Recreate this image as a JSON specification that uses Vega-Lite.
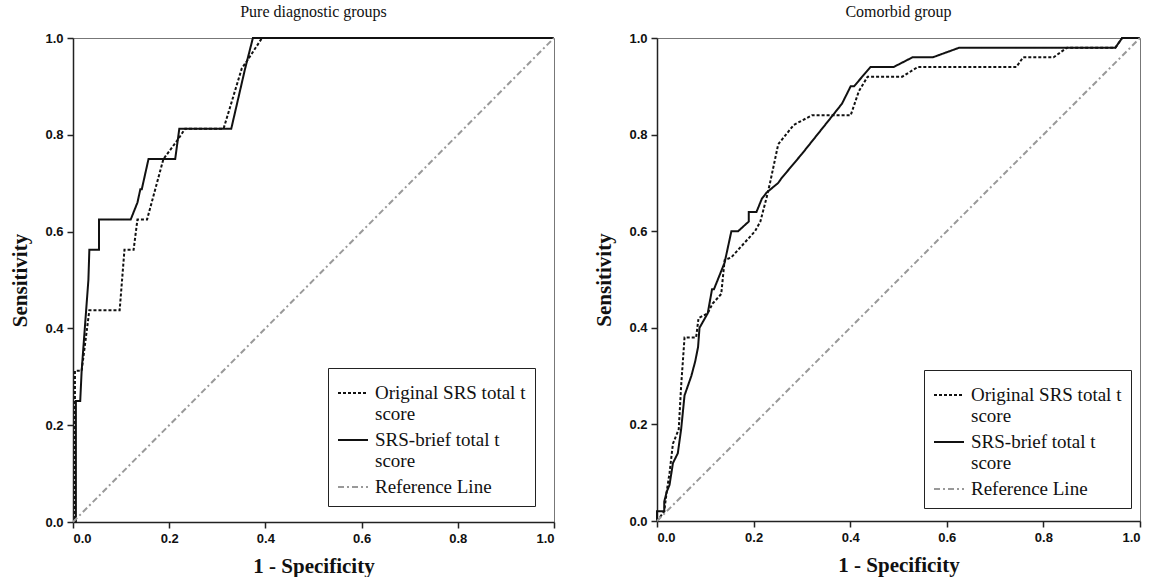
{
  "$schema": "https://vega.github.io/schema/vega-lite/v6.json",
  "background": "white",
  "padding": {"left": 9, "top": 3, "right": 0, "bottom": 0},
  "spacing": 34,
  "datasets": {
    "pure": [
      {"s": "a", "i": 0, "x": 0, "y": 0},
      {"s": "a", "i": 1, "x": 0.004, "y": 0},
      {"s": "a", "i": 2, "x": 0.004, "y": 0.3125},
      {"s": "a", "i": 3, "x": 0.018, "y": 0.3125},
      {"s": "a", "i": 4, "x": 0.026, "y": 0.375},
      {"s": "a", "i": 5, "x": 0.034, "y": 0.4375},
      {"s": "a", "i": 6, "x": 0.097, "y": 0.4375},
      {"s": "a", "i": 7, "x": 0.107, "y": 0.5625},
      {"s": "a", "i": 8, "x": 0.126, "y": 0.5625},
      {"s": "a", "i": 9, "x": 0.134, "y": 0.625},
      {"s": "a", "i": 10, "x": 0.154, "y": 0.625},
      {"s": "a", "i": 11, "x": 0.171, "y": 0.6875},
      {"s": "a", "i": 12, "x": 0.188, "y": 0.75},
      {"s": "a", "i": 13, "x": 0.218, "y": 0.79},
      {"s": "a", "i": 14, "x": 0.233, "y": 0.8125},
      {"s": "a", "i": 15, "x": 0.313, "y": 0.8125},
      {"s": "a", "i": 16, "x": 0.351, "y": 0.9375},
      {"s": "a", "i": 17, "x": 0.36, "y": 0.95},
      {"s": "a", "i": 18, "x": 0.393, "y": 1},
      {"s": "a", "i": 19, "x": 1, "y": 1},
      {"s": "b", "i": 0, "x": 0, "y": 0},
      {"s": "b", "i": 1, "x": 0.006, "y": 0},
      {"s": "b", "i": 2, "x": 0.006, "y": 0.25},
      {"s": "b", "i": 3, "x": 0.015, "y": 0.25},
      {"s": "b", "i": 4, "x": 0.018, "y": 0.3125},
      {"s": "b", "i": 5, "x": 0.032, "y": 0.5},
      {"s": "b", "i": 6, "x": 0.034, "y": 0.5625},
      {"s": "b", "i": 7, "x": 0.054, "y": 0.5625},
      {"s": "b", "i": 8, "x": 0.054, "y": 0.625},
      {"s": "b", "i": 9, "x": 0.12, "y": 0.625},
      {"s": "b", "i": 10, "x": 0.134, "y": 0.66},
      {"s": "b", "i": 11, "x": 0.14, "y": 0.6875},
      {"s": "b", "i": 12, "x": 0.143, "y": 0.6875},
      {"s": "b", "i": 13, "x": 0.157, "y": 0.75},
      {"s": "b", "i": 14, "x": 0.2125, "y": 0.75},
      {"s": "b", "i": 15, "x": 0.221, "y": 0.8125},
      {"s": "b", "i": 16, "x": 0.329, "y": 0.8125},
      {"s": "b", "i": 17, "x": 0.358, "y": 0.9375},
      {"s": "b", "i": 18, "x": 0.374, "y": 1},
      {"s": "b", "i": 19, "x": 1, "y": 1},
      {"s": "c", "i": 0, "x": 0, "y": 0},
      {"s": "c", "i": 1, "x": 1, "y": 1}
    ],
    "comorbid": [
      {"s": "a", "i": 0, "x": 0, "y": 0},
      {"s": "a", "i": 1, "x": 0.015, "y": 0.02},
      {"s": "a", "i": 2, "x": 0.02, "y": 0.06},
      {"s": "a", "i": 3, "x": 0.026, "y": 0.1},
      {"s": "a", "i": 4, "x": 0.033, "y": 0.16},
      {"s": "a", "i": 5, "x": 0.045, "y": 0.19},
      {"s": "a", "i": 6, "x": 0.05, "y": 0.28},
      {"s": "a", "i": 7, "x": 0.057, "y": 0.38},
      {"s": "a", "i": 8, "x": 0.081, "y": 0.38},
      {"s": "a", "i": 9, "x": 0.086, "y": 0.42},
      {"s": "a", "i": 10, "x": 0.105, "y": 0.43},
      {"s": "a", "i": 11, "x": 0.115, "y": 0.45},
      {"s": "a", "i": 12, "x": 0.133, "y": 0.47},
      {"s": "a", "i": 13, "x": 0.14, "y": 0.54},
      {"s": "a", "i": 14, "x": 0.154, "y": 0.546},
      {"s": "a", "i": 15, "x": 0.203, "y": 0.6},
      {"s": "a", "i": 16, "x": 0.214, "y": 0.62},
      {"s": "a", "i": 17, "x": 0.227, "y": 0.67},
      {"s": "a", "i": 18, "x": 0.234, "y": 0.7},
      {"s": "a", "i": 19, "x": 0.251, "y": 0.78},
      {"s": "a", "i": 20, "x": 0.283, "y": 0.82},
      {"s": "a", "i": 21, "x": 0.321, "y": 0.84},
      {"s": "a", "i": 22, "x": 0.401, "y": 0.84},
      {"s": "a", "i": 23, "x": 0.418, "y": 0.89},
      {"s": "a", "i": 24, "x": 0.436, "y": 0.92},
      {"s": "a", "i": 25, "x": 0.508, "y": 0.92},
      {"s": "a", "i": 26, "x": 0.54, "y": 0.94},
      {"s": "a", "i": 27, "x": 0.744, "y": 0.94},
      {"s": "a", "i": 28, "x": 0.758, "y": 0.96},
      {"s": "a", "i": 29, "x": 0.821, "y": 0.96},
      {"s": "a", "i": 30, "x": 0.849, "y": 0.98},
      {"s": "a", "i": 31, "x": 0.949, "y": 0.98},
      {"s": "a", "i": 32, "x": 0.963, "y": 1},
      {"s": "a", "i": 33, "x": 1, "y": 1},
      {"s": "b", "i": 0, "x": 0, "y": 0},
      {"s": "b", "i": 1, "x": 0, "y": 0.02},
      {"s": "b", "i": 2, "x": 0.015, "y": 0.02},
      {"s": "b", "i": 3, "x": 0.015, "y": 0.04},
      {"s": "b", "i": 4, "x": 0.02, "y": 0.06},
      {"s": "b", "i": 5, "x": 0.026, "y": 0.075},
      {"s": "b", "i": 6, "x": 0.033, "y": 0.12},
      {"s": "b", "i": 7, "x": 0.043, "y": 0.14},
      {"s": "b", "i": 8, "x": 0.05, "y": 0.19},
      {"s": "b", "i": 9, "x": 0.057, "y": 0.26},
      {"s": "b", "i": 10, "x": 0.071, "y": 0.3},
      {"s": "b", "i": 11, "x": 0.079, "y": 0.33},
      {"s": "b", "i": 12, "x": 0.085, "y": 0.36},
      {"s": "b", "i": 13, "x": 0.088, "y": 0.4},
      {"s": "b", "i": 14, "x": 0.105, "y": 0.43},
      {"s": "b", "i": 15, "x": 0.114, "y": 0.48},
      {"s": "b", "i": 16, "x": 0.118, "y": 0.48},
      {"s": "b", "i": 17, "x": 0.14, "y": 0.535},
      {"s": "b", "i": 18, "x": 0.154, "y": 0.6},
      {"s": "b", "i": 19, "x": 0.168, "y": 0.6},
      {"s": "b", "i": 20, "x": 0.19, "y": 0.62},
      {"s": "b", "i": 21, "x": 0.19, "y": 0.64},
      {"s": "b", "i": 22, "x": 0.206, "y": 0.64},
      {"s": "b", "i": 23, "x": 0.217, "y": 0.667},
      {"s": "b", "i": 24, "x": 0.227, "y": 0.68},
      {"s": "b", "i": 25, "x": 0.251, "y": 0.7},
      {"s": "b", "i": 26, "x": 0.258, "y": 0.71},
      {"s": "b", "i": 27, "x": 0.3, "y": 0.76},
      {"s": "b", "i": 28, "x": 0.356, "y": 0.83},
      {"s": "b", "i": 29, "x": 0.383, "y": 0.864},
      {"s": "b", "i": 30, "x": 0.401, "y": 0.9},
      {"s": "b", "i": 31, "x": 0.408, "y": 0.9},
      {"s": "b", "i": 32, "x": 0.442, "y": 0.94},
      {"s": "b", "i": 33, "x": 0.49, "y": 0.94},
      {"s": "b", "i": 34, "x": 0.529, "y": 0.96},
      {"s": "b", "i": 35, "x": 0.571, "y": 0.96},
      {"s": "b", "i": 36, "x": 0.626, "y": 0.98},
      {"s": "b", "i": 37, "x": 0.949, "y": 0.98},
      {"s": "b", "i": 38, "x": 0.963, "y": 1},
      {"s": "b", "i": 39, "x": 1, "y": 1},
      {"s": "c", "i": 0, "x": 0, "y": 0},
      {"s": "c", "i": 1, "x": 1, "y": 1}
    ]
  },
  "config": {
    "view": {"stroke": "#777", "strokeWidth": 1},
    "axis": {
      "grid": false,
      "domainColor": "#222",
      "domainWidth": 1.5,
      "tickColor": "#222",
      "tickWidth": 1.5,
      "tickSize": 6,
      "labelFont": "Liberation Sans",
      "labelFontWeight": "bold",
      "labelFontSize": 13,
      "labelColor": "#111",
      "labelPadding": 4,
      "titleFont": "Liberation Serif",
      "titleFontSize": 21,
      "titleFontWeight": "bold",
      "titleColor": "#111"
    },
    "title": {"font": "Liberation Serif", "fontSize": 16, "fontWeight": "normal", "color": "#111", "offset": 12},
    "legend": {
      "orient": "none",
      "strokeColor": "#222",
      "fillColor": "white",
      "padding": 9,
      "labelFont": "Liberation Serif",
      "labelFontSize": 19,
      "labelColor": "#111",
      "labelLimit": 300,
      "symbolType": "stroke",
      "symbolSize": 900,
      "symbolStrokeWidth": 2,
      "rowPadding": 0,
      "labelOffset": 6
    }
  },
  "resolve": {"scale": {"x": "independent", "y": "independent", "color": "independent", "strokeDash": "independent"}, "legend": {"color": "independent", "strokeDash": "independent"}},
  "hconcat": [
    {
      "title": "Pure diagnostic groups",
      "width": 481,
      "height": 484,
      "data": {"name": "pure"},
      "mark": {"type": "line", "strokeWidth": 2},
      "encoding": {
        "x": {"field": "x", "type": "quantitative", "scale": {"domain": [0, 1], "nice": false}, "axis": {"values": [0, 0.2, 0.4, 0.6, 0.8, 1], "format": ".1f", "title": "1 - Specificity", "titlePadding": 10}},
        "y": {"field": "y", "type": "quantitative", "scale": {"domain": [0, 1], "nice": false}, "axis": {"values": [0, 0.2, 0.4, 0.6, 0.8, 1], "format": ".1f", "title": "Sensitivity", "titlePadding": 14}},
        "order": {"field": "i", "type": "quantitative"},
        "color": {"field": "s", "type": "nominal", "scale": {"domain": ["a", "b", "c"], "range": ["#111", "#111", "#999"]}, "legend": {"title": null, "legendX": 255, "legendY": 330, "labelExpr": "datum.value == 'a' ? ['Original SRS total t', 'score'] : datum.value == 'b' ? ['SRS-brief total t', 'score'] : 'Reference Line'"}},
        "strokeDash": {"field": "s", "type": "nominal", "scale": {"domain": ["a", "b", "c"], "range": [[3, 2], [1, 0], [6, 3, 2, 3]]}, "legend": {"title": null, "legendX": 255, "legendY": 330, "labelExpr": "datum.value == 'a' ? ['Original SRS total t', 'score'] : datum.value == 'b' ? ['SRS-brief total t', 'score'] : 'Reference Line'"}}
      }
    },
    {
      "title": "Comorbid group",
      "width": 483,
      "height": 483,
      "data": {"name": "comorbid"},
      "mark": {"type": "line", "strokeWidth": 2},
      "encoding": {
        "x": {"field": "x", "type": "quantitative", "scale": {"domain": [0, 1], "nice": false}, "axis": {"values": [0, 0.2, 0.4, 0.6, 0.8, 1], "format": ".1f", "title": "1 - Specificity", "titlePadding": 10}},
        "y": {"field": "y", "type": "quantitative", "scale": {"domain": [0, 1], "nice": false}, "axis": {"values": [0, 0.2, 0.4, 0.6, 0.8, 1], "format": ".1f", "title": "Sensitivity", "titlePadding": 14}},
        "order": {"field": "i", "type": "quantitative"},
        "color": {"field": "s", "type": "nominal", "scale": {"domain": ["a", "b", "c"], "range": ["#111", "#111", "#999"]}, "legend": {"title": null, "legendX": 267, "legendY": 332, "labelExpr": "datum.value == 'a' ? ['Original SRS total t', 'score'] : datum.value == 'b' ? ['SRS-brief total t', 'score'] : 'Reference Line'"}},
        "strokeDash": {"field": "s", "type": "nominal", "scale": {"domain": ["a", "b", "c"], "range": [[3, 2], [1, 0], [6, 3, 2, 3]]}, "legend": {"title": null, "legendX": 267, "legendY": 332, "labelExpr": "datum.value == 'a' ? ['Original SRS total t', 'score'] : datum.value == 'b' ? ['SRS-brief total t', 'score'] : 'Reference Line'"}}
      }
    }
  ]
}
